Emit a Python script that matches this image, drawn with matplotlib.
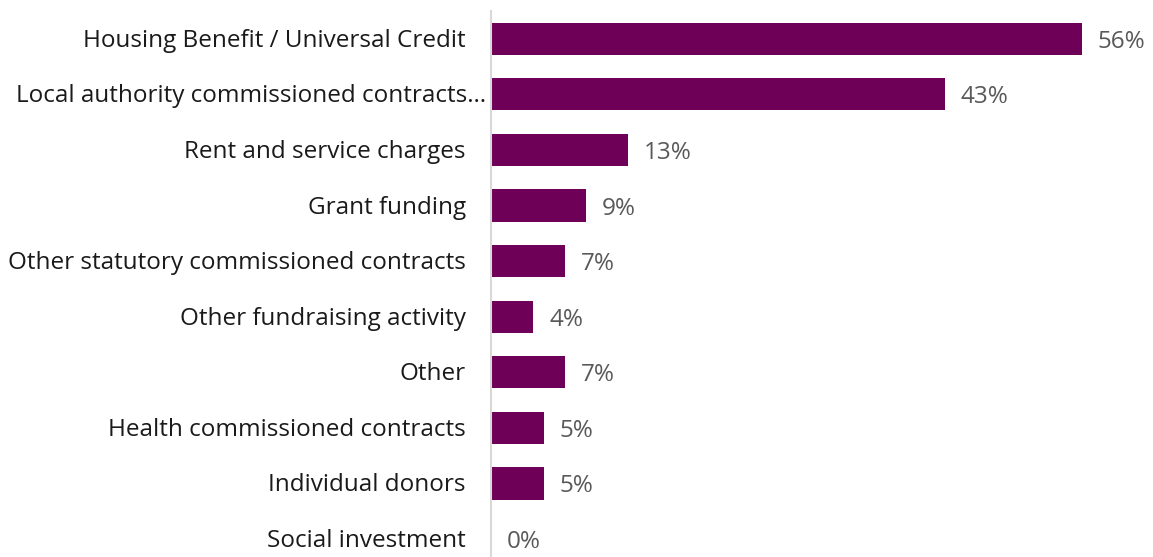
import matplotlib.pyplot as plt

plt.rcParams['font.family'] = ['Open Sans', 'DejaVu Sans']

# income sources and share of respondents (%)
quellen = [
    "Housing Benefit / Universal Credit",
    "Local authority commissioned contracts…",
    "Rent and service charges",
    "Grant funding",
    "Other statutory commissioned contracts",
    "Other fundraising activity",
    "Other",
    "Health commissioned contracts",
    "Individual donors",
    "Social investment",
]
anteile = [56, 43, 13, 9, 7, 4, 7, 5, 5, 0]

fig = plt.figure(figsize=(11.53, 5.57), dpi=100)
ax = fig.add_axes([491 / 1153, 0, 662 / 1153, 546 / 557])

y = range(len(quellen))
ax.barh(y, anteile, height=0.58, color="#6E0057")
for i, v in enumerate(anteile):
    ax.annotate(f"{v}%", (v, i), xytext=(16, -3), textcoords="offset pixels",
                va="center", ha="left", fontsize=17.5, color="#595959")

# category labels; the truncated one sticks out past the others a little
for i, name in enumerate(quellen):
    dx = -5 if name.endswith("…") else -25
    ax.annotate(name, (0, i), xytext=(dx, 1), textcoords="offset pixels",
                va="center_baseline", ha="right", fontsize=17.5,
                color="#1a1a1a", annotation_clip=False)

ax.set_xlim(0, 62.75)
ax.set_ylim(9.324, -0.5)
ax.set_xticks([])
ax.set_yticks([])
for s in ["top", "right", "bottom"]:
    ax.spines[s].set_visible(False)
ax.spines["left"].set_color("#d9d9d9")
ax.spines["left"].set_linewidth(1.5)

fig.savefig("out.png", dpi=100)
